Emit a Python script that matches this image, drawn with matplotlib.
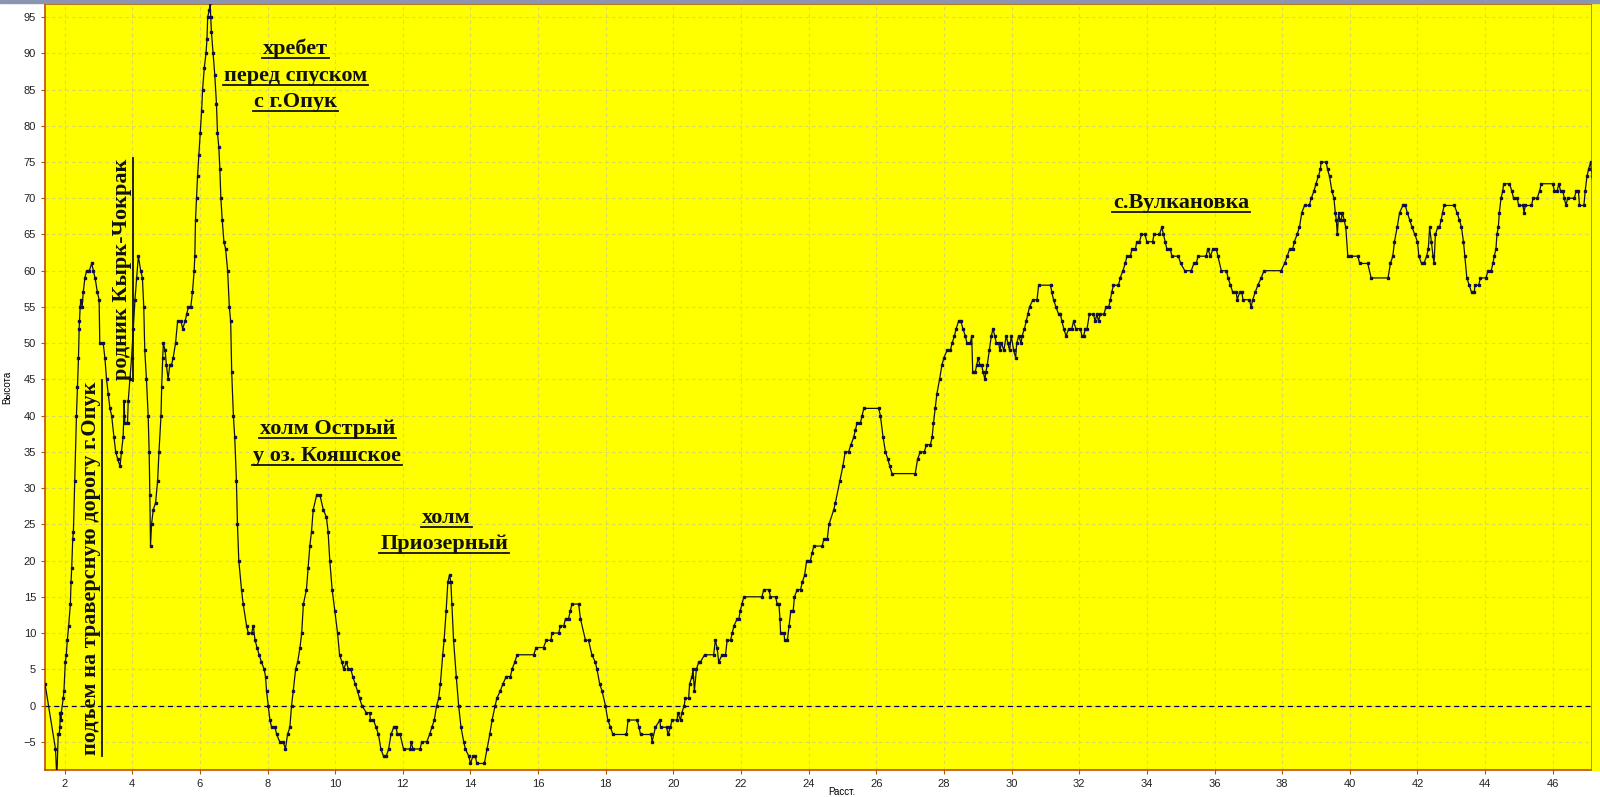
import matplotlib
matplotlib.use("Agg")
import matplotlib.pyplot as plt
from matplotlib.lines import Line2D
from matplotlib.patches import Rectangle

# профиль: расстояние (км) и высота (м)
dist = [
    1.42, 1.73, 1.77, 1.81, 1.84, 1.86, 1.87, 1.89, 1.90, 1.96, 1.98, 2.02, 2.05, 2.08, 2.12, 2.17,
    2.19, 2.21, 2.24, 2.26, 2.30, 2.35, 2.38, 2.41, 2.43, 2.44, 2.46, 2.48, 2.52, 2.55, 2.60, 2.65,
    2.73, 2.80, 2.85, 2.90, 2.97, 3.02, 3.04, 3.14, 3.19, 3.24, 3.29, 3.34, 3.39, 3.46, 3.51, 3.57,
    3.64, 3.68, 3.73, 3.75, 3.76, 3.78, 3.86, 3.88, 3.93, 3.98, 4.03, 4.08, 4.13, 4.18, 4.25, 4.30,
    4.34, 4.37, 4.42, 4.47, 4.50, 4.52, 4.54, 4.57, 4.62, 4.69, 4.75, 4.79, 4.85, 4.87, 4.90, 4.92,
    4.97, 5.01, 5.06, 5.11, 5.16, 5.21, 5.28, 5.34, 5.44, 5.49, 5.56, 5.61, 5.66, 5.73, 5.78, 5.83,
    5.85, 5.87, 5.90, 5.93, 5.97, 6.01, 6.05, 6.08, 6.13, 6.18, 6.21, 6.23, 6.28, 6.30, 6.32, 6.34,
    6.39, 6.44, 6.49, 6.52, 6.56, 6.59, 6.62, 6.66, 6.71, 6.76, 6.82, 6.87, 6.91, 6.94, 6.99, 7.03,
    7.08, 7.11, 7.15, 7.23, 7.28, 7.38, 7.43, 7.53, 7.58, 7.63, 7.69, 7.75, 7.82, 7.90, 7.94, 7.97,
    8.02, 8.07, 8.12, 8.22, 8.27, 8.36, 8.46, 8.53, 8.59, 8.66, 8.71, 8.76, 8.83, 8.89, 8.96, 9.01,
    9.06, 9.15, 9.20, 9.25, 9.30, 9.35, 9.45, 9.55, 9.65, 9.74, 9.79, 9.84, 9.91, 9.99,
    10.07, 10.13, 10.20, 10.25, 10.33, 10.39, 10.46, 10.52, 10.59, 10.66, 10.72, 10.79, 10.92, 11.02,
    11.04, 11.13, 11.21, 11.28, 11.35, 11.43, 11.51, 11.58, 11.65, 11.73, 11.80, 11.84, 11.92, 12.02,
    12.22, 12.25, 12.30, 12.51, 12.56, 12.71, 12.79, 12.86, 12.93, 13.00, 13.06, 13.11, 13.18, 13.22,
    13.28, 13.33, 13.38, 13.42, 13.45, 13.50, 13.58, 13.65, 13.72, 13.80, 13.85, 13.95, 14.00, 14.07,
    14.14, 14.19, 14.41, 14.49, 14.57, 14.64, 14.73, 14.78, 14.88, 14.96, 15.06, 15.18, 15.23, 15.31,
    15.38, 15.87, 15.94, 16.16, 16.24, 16.38, 16.41, 16.61, 16.66, 16.76, 16.81, 16.90, 16.95, 17.00,
    17.20, 17.25, 17.40, 17.49, 17.59, 17.69, 17.74, 17.82, 17.89, 17.99, 18.06, 18.14, 18.21, 18.61,
    18.66, 18.93, 18.98, 19.03, 19.34, 19.37, 19.47, 19.60, 19.62, 19.80, 19.84, 19.91, 19.96, 20.11,
    20.13, 20.21, 20.25, 20.32, 20.35, 20.45, 20.48, 20.55, 20.58, 20.62, 20.68, 20.75, 20.80, 20.92,
    21.19, 21.24, 21.29, 21.34, 21.44, 21.54, 21.59, 21.69, 21.74, 21.79, 21.89, 21.94, 21.97, 22.03,
    22.08, 22.62, 22.67, 22.82, 22.87, 23.02, 23.07, 23.12, 23.15, 23.17, 23.27, 23.29, 23.37, 23.42,
    23.47, 23.54, 23.58, 23.66, 23.76, 23.81, 23.88, 23.94, 24.05, 24.10, 24.15, 24.40, 24.45, 24.55,
    24.60, 24.74, 24.79, 24.92, 25.01, 25.08, 25.18, 25.25, 25.33, 25.38, 25.43, 25.53, 25.58, 25.63,
    26.07, 26.12, 26.20, 26.27, 26.34, 26.40, 26.46, 27.15, 27.22, 27.30, 27.42, 27.48, 27.60, 27.65,
    27.69, 27.74, 27.79, 27.87, 27.94, 28.00, 28.09, 28.19, 28.24, 28.31, 28.36, 28.43, 28.50, 28.56,
    28.63, 28.68, 28.78, 28.82, 28.85, 28.92, 28.97, 29.01, 29.06, 29.11, 29.16, 29.21, 29.24, 29.28,
    29.34, 29.40, 29.45, 29.50, 29.55, 29.62, 29.65, 29.70, 29.77, 29.84, 29.89, 29.94, 29.99, 30.06,
    30.12, 30.15, 30.21, 30.28, 30.31, 30.38, 30.43, 30.48, 30.53, 30.63, 30.75, 30.80, 31.15, 31.19,
    31.24, 31.31, 31.39, 31.44, 31.49, 31.54, 31.61, 31.69, 31.78, 31.83, 31.90, 32.03, 32.08, 32.13,
    32.18, 32.23, 32.30, 32.42, 32.47, 32.52, 32.57, 32.62, 32.73, 32.79, 32.87, 32.92, 32.96, 33.01,
    33.16, 33.21, 33.29, 33.36, 33.41, 33.51, 33.56, 33.66, 33.70, 33.78, 33.84, 33.94, 34.00, 34.17,
    34.21, 34.37, 34.44, 34.49, 34.54, 34.59, 34.69, 34.74, 34.93, 35.00, 35.12, 35.31, 35.39, 35.46,
    35.51, 35.75, 35.80, 35.88, 35.95, 36.05, 36.10, 36.20, 36.35, 36.40, 36.47, 36.54, 36.64, 36.67,
    36.74, 36.81, 36.84, 37.03, 37.08, 37.13, 37.20, 37.28, 37.38, 37.46, 37.97, 38.07, 38.15, 38.22,
    38.31, 38.36, 38.44, 38.51, 38.58, 38.66, 38.80, 38.86, 38.94, 39.00, 39.07, 39.13, 39.15, 39.30,
    39.34, 39.40, 39.47, 39.53, 39.57, 39.60, 39.63, 39.67, 39.70, 39.74, 39.78, 39.83, 39.88, 39.94,
    40.04, 40.24, 40.29, 40.53, 40.63, 41.13, 41.20, 41.27, 41.32, 41.40, 41.47, 41.57, 41.64, 41.70,
    41.77, 41.84, 41.92, 42.00, 42.04, 42.12, 42.19, 42.27, 42.32, 42.36, 42.41, 42.46, 42.49, 42.53,
    42.60, 42.65, 42.70, 42.74, 42.79, 43.09, 43.17, 43.24, 43.30, 43.36, 43.40, 43.46, 43.53, 43.60,
    43.68, 43.70, 43.81, 43.86, 44.03, 44.08, 44.18, 44.23, 44.27, 44.32, 44.35, 44.39, 44.42, 44.47,
    44.52, 44.55, 44.72, 44.79, 44.84, 44.95, 44.99, 45.12, 45.15, 45.19, 45.37, 45.42, 45.54, 45.61,
    45.66, 46.00, 46.05, 46.13, 46.18, 46.23, 46.30, 46.34, 46.39, 46.44, 46.64, 46.69, 46.76, 46.79,
    46.92, 46.96, 47.01, 47.06, 47.12, 47.16, 47.22,
]
height = [
    3, -6, -10, -4, -4, -3, -1, -2, -1, 1, 2, 6, 7, 9, 11, 14,
    17, 19, 23, 24, 31, 40, 44, 48, 52, 53, 55, 56, 55, 57, 59, 60,
    60, 61, 60, 59, 57, 56, 50, 50, 48, 45, 43, 41, 40, 37, 35, 34,
    33, 35, 37, 40, 42, 39, 39, 42, 45, 48, 52, 56, 59, 62, 60, 59,
    55, 49, 45, 40, 35, 29, 22, 25, 27, 28, 31, 35, 40, 44, 48, 50,
    49, 47, 45, 47, 47, 48, 50, 53, 53, 52, 53, 54, 55, 55, 57, 60,
    62, 67, 70, 73, 76, 79, 82, 85, 88, 90, 92, 95, 96, 97, 95, 93,
    90, 87, 83, 79, 77, 74, 70, 67, 64, 63, 60, 55, 53, 46, 40, 37,
    31, 25, 20, 16, 14, 11, 10, 10, 11, 9, 8, 7, 6, 5, 4, 2,
    0, -2, -3, -3, -4, -5, -5, -6, -4, -3, 0, 2, 5, 6, 8, 10,
    14, 16, 19, 22, 24, 27, 29, 29, 27, 26, 24, 20, 16, 13,
    10, 7, 6, 5, 6, 5, 5, 4, 3, 2, 1, 0, -1, -1,
    -2, -2, -3, -4, -6, -7, -7, -6, -4, -3, -3, -4, -4, -6,
    -6, -5, -6, -6, -5, -5, -4, -3, -2, 0, 1, 3, 7, 9,
    13, 17, 18, 17, 14, 9, 4, 0, -3, -5, -6, -7, -8, -7,
    -7, -8, -8, -6, -4, -2, 0, 1, 2, 3, 4, 4, 5, 6,
    7, 7, 8, 8, 9, 9, 10, 10, 11, 11, 12, 12, 13, 14,
    14, 12, 9, 9, 7, 6, 5, 3, 2, 0, -2, -3, -4, -4,
    -2, -2, -3, -4, -4, -5, -3, -2, -3, -3, -4, -3, -2, -2,
    -1, -2, -1, 0, 1, 1, 3, 4, 5, 2, 5, 6, 6, 7,
    7, 9, 8, 6, 7, 7, 9, 9, 10, 11, 12, 12, 13, 14,
    15, 15, 16, 16, 15, 15, 14, 14, 12, 10, 10, 9, 9, 11,
    13, 13, 15, 16, 16, 17, 18, 20, 20, 21, 22, 22, 23, 23,
    25, 27, 28, 31, 33, 35, 35, 36, 37, 38, 39, 39, 40, 41,
    41, 40, 37, 35, 34, 33, 32, 32, 34, 35, 35, 36, 36, 37,
    39, 41, 43, 45, 47, 48, 49, 49, 50, 51, 52, 53, 53, 52,
    51, 50, 50, 51, 46, 46, 47, 48, 47, 47, 46, 45, 46, 47,
    49, 51, 52, 51, 50, 50, 49, 50, 49, 51, 50, 49, 51, 49,
    48, 50, 51, 50, 51, 52, 53, 54, 55, 56, 56, 58, 58, 57,
    56, 55, 54, 54, 53, 52, 51, 52, 52, 53, 52, 52, 51, 51,
    52, 52, 54, 54, 53, 54, 53, 54, 54, 55, 55, 56, 57, 58,
    58, 59, 60, 61, 62, 62, 63, 63, 64, 64, 65, 65, 64, 64,
    65, 65, 66, 65, 64, 63, 63, 62, 62, 61, 60, 60, 61, 61,
    62, 62, 63, 62, 63, 63, 62, 60, 60, 59, 58, 57, 57, 56,
    57, 57, 56, 56, 55, 56, 57, 58, 59, 60, 60, 61, 62, 63,
    63, 64, 65, 66, 68, 69, 69, 70, 71, 72, 73, 74, 75, 75,
    74, 73, 71, 70, 68, 67, 65, 68, 67, 67, 68, 67, 66, 62,
    62, 62, 61, 61, 59, 59, 61, 62, 64, 66, 68, 69, 69, 68,
    67, 66, 65, 64, 62, 61, 61, 62, 63, 66, 64, 62, 61, 65,
    66, 66, 67, 68, 69, 69, 68, 67, 66, 64, 62, 59, 58, 57,
    57, 58, 58, 59, 59, 60, 60, 61, 62, 63, 65, 66, 68, 70,
    71, 72, 72, 71, 70, 70, 69, 69, 68, 69, 69, 70, 70, 71,
    72, 72, 71, 71, 72, 71, 71, 70, 69, 70, 70, 71, 71, 69,
    69, 71, 73, 74, 75, 73, 71,
]

xticks = list(range(2, 47, 2))
yticks = list(range(-5, 96, 5))

fig = plt.figure(figsize=(16, 7.97), dpi=100)
ax = fig.add_axes([45 / 1600, 27 / 797, 1547 / 1600, 766 / 797])
ax.set_facecolor("#ffff00")

# жёлтая полоска справа за рамкой и полоса окна сверху
fig.patches.append(Rectangle((1592 / 1600, 27 / 797), 8 / 1600, 766 / 797,
                             transform=fig.transFigure, color="#ffff00", zorder=0))
fig.patches.append(Rectangle((0, 794 / 797), 1, 3 / 797,
                             transform=fig.transFigure, color="#8a96b0", zorder=0))

ax.grid(True, color="#d9d75c", linestyle=(0, (3, 3)), linewidth=0.8)
ax.set_axisbelow(True)
ax.axhline(0, color="#00004a", linestyle=(0, (4, 3)), linewidth=0.9, zorder=1)

ax.plot(dist, height, color="#111122", linewidth=0.9, marker="s", markersize=1.9,
        markerfacecolor="#101048", markeredgecolor="#101048", zorder=3)

ax.set_xlim(1.42, 47.16)
ax.set_ylim(-8.9, 96.8)
ax.set_xticks(xticks)
ax.set_yticks(yticks)
ax.tick_params(axis="both", length=3, color="#c05000", labelsize=8, labelcolor="#222222")
for lab in ax.get_xticklabels() + ax.get_yticklabels():
    lab.set_family(["Liberation Sans", "DejaVu Sans"])
for s in ax.spines.values():
    s.set_color("#c05000")
    s.set_linewidth(1.2)

ax.set_xlabel("Расст.", fontsize=7, family=["Liberation Sans", "DejaVu Sans"])
ax.xaxis.set_label_coords(0.515, -0.022)
ax.set_ylabel("Высота", fontsize=7, family=["Liberation Sans", "DejaVu Sans"])
ax.yaxis.set_label_coords(-0.021, 0.5)

font = dict(family=["Liberation Serif", "DejaVu Serif"], weight="bold", size=16, color="#111111")
labels = []
labels.append(ax.text(8.82, 90.6, "хребет", ha="center", va="center", **font))
labels.append(ax.text(8.82, 86.9, "перед спуском", ha="center", va="center", **font))
labels.append(ax.text(8.82, 83.3, "с г.Опук", ha="center", va="center", **font))
labels.append(ax.text(9.77, 38.2, "холм Острый", ha="center", va="center", **font))
labels.append(ax.text(9.77, 34.4, "у оз. Кояшское", ha="center", va="center", **font))
labels.append(ax.text(13.29, 25.9, "холм", ha="center", va="center", **font))
labels.append(ax.text(13.22, 22.3, "Приозерный", ha="center", va="center", **font))
labels.append(ax.text(33.0, 69.4, "с.Вулкановка", ha="left", va="center", **font))
labels.append(ax.text(2.78, 19.0, "подъем на траверсную дорогу г.Опук", ha="center", va="center",
                      rotation=90, **font))
labels.append(ax.text(3.69, 60.2, "родник Кырк-Чокрак", ha="center", va="center",
                      rotation=90, **font))

# подчёркивание надписей
fig.canvas.draw()
renderer = fig.canvas.get_renderer()
inv = fig.transFigure.inverted()
for t in labels:
    bb = t.get_window_extent(renderer)
    if t.get_rotation() == 90:
        xs = [bb.x1 + 1, bb.x1 + 1]
        ys = [bb.y0 - 1, bb.y1 + 1]
    else:
        xs = [bb.x0 - 1, bb.x1 + 1]
        ys = [bb.y0 + 1, bb.y0 + 1]
    pts = inv.transform(list(zip(xs, ys)))
    fig.lines.append(Line2D(pts[:, 0], pts[:, 1], color="#111111", linewidth=1.3,
                            transform=fig.transFigure))

fig.savefig("out.png", dpi=100)
